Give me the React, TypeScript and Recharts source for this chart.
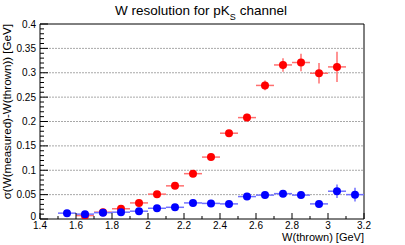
import { ScatterChart, Scatter, XAxis, YAxis, ErrorBar, ReferenceLine } from "recharts";

// red series (upper curve)
const redW = [1.65, 1.75, 1.85, 1.95, 2.05, 2.15, 2.25, 2.35, 2.45, 2.55, 2.65, 2.75, 2.85, 2.95, 3.05];
const redSigma = [0.007, 0.014, 0.021, 0.033, 0.051, 0.068, 0.093, 0.127, 0.176, 0.208, 0.274, 0.316, 0.321, 0.299, 0.312];
const redErr = [0.002, 0.002, 0.002, 0.003, 0.003, 0.003, 0.004, 0.005, 0.006, 0.008, 0.01, 0.014, 0.018, 0.021, 0.031];

// blue series (flat curve)
const blueW = [1.55, 1.65, 1.75, 1.85, 1.95, 2.05, 2.15, 2.25, 2.35, 2.45, 2.55, 2.65, 2.75, 2.85, 2.95, 3.05, 3.15];
const blueSigma = [0.012, 0.01, 0.013, 0.014, 0.016, 0.022, 0.024, 0.033, 0.032, 0.031, 0.046, 0.049, 0.052, 0.049, 0.031, 0.057, 0.05];
const blueErr = [0.002, 0.002, 0.002, 0.002, 0.002, 0.002, 0.002, 0.003, 0.003, 0.003, 0.003, 0.003, 0.003, 0.003, 0.005, 0.014, 0.014];

const binHalfWidth = 0.05;

const xMajor = [1.4, 1.6, 1.8, 2, 2.2, 2.4, 2.6, 2.8, 3, 3.2];
const xMinor = [1.5, 1.7, 1.9, 2.1, 2.3, 2.5, 2.7, 2.9, 3.1];
const yMajor = [0, 0.05, 0.1, 0.15, 0.2, 0.25, 0.3, 0.35, 0.4];
const yMinor = [
  0.01, 0.02, 0.03, 0.04, 0.06, 0.07, 0.08, 0.09, 0.11, 0.12, 0.13, 0.14,
  0.16, 0.17, 0.18, 0.19, 0.21, 0.22, 0.23, 0.24, 0.26, 0.27, 0.28, 0.29,
  0.31, 0.32, 0.33, 0.34, 0.36, 0.37, 0.38, 0.39,
];

const FONT = "'Liberation Sans', Arial, sans-serif";

const redData = redW.map((w, i) => ({ x: w, y: redSigma[i], ex: binHalfWidth, ey: redErr[i] }));
const blueData = blueW.map((w, i) => ({ x: w, y: blueSigma[i], ex: binHalfWidth, ey: blueErr[i] }));

const isMajor = (list: number[], v: number) => list.some((m) => Math.abs(m - v) < 1e-6);

function XTick(props: any) {
  const { x, y, payload } = props;
  const major = isMajor(xMajor, payload.value);
  return (
    <g>
      <line x1={x} x2={x} y1={y} y2={y - (major ? 6 : 3)} stroke="#000" />
      {major && (
        <text x={x} y={y + 10} textAnchor="middle" fontSize={10} fontFamily={FONT} fill="#000">
          {String(payload.value)}
        </text>
      )}
    </g>
  );
}

function YTick(props: any) {
  const { x, y, payload } = props;
  const major = isMajor(yMajor, payload.value);
  // the zero label sits a little higher so it clears the 1.4 label below
  const dy = payload.value === 0 ? 1 : 3.5;
  return (
    <g>
      <line x1={x} x2={x + (major ? 8 : 4)} y1={y} y2={y} stroke="#000" />
      {major && (
        <text x={x - 4} y={y + dy} textAnchor="end" fontSize={10} fontFamily={FONT} fill="#000">
          {String(payload.value)}
        </text>
      )}
    </g>
  );
}

const marker = (color: string) => (p: any) => <circle cx={p.cx} cy={p.cy} r={4} fill={color} />;

export default function App() {
  const xTicks = [...xMajor, ...xMinor].sort((a, b) => a - b);
  const yTicks = [...yMajor, ...yMinor].sort((a, b) => a - b);
  return (
    <div style={{ position: "absolute", left: 0, top: 0, width: 405, height: 245, background: "#fff" }}>
      <ScatterChart width={405} height={245} margin={{ top: 24, right: 41, bottom: 0, left: 0 }}>
        <XAxis
          type="number"
          dataKey="x"
          domain={[1.4, 3.2]}
          ticks={xTicks}
          interval={0}
          height={26}
          tickSize={0}
          tickMargin={0}
          tickLine={false}
          tick={XTick}
          axisLine={{ stroke: "#000" }}
          allowDataOverflow
        />
        <YAxis
          type="number"
          dataKey="y"
          domain={[0, 0.4]}
          ticks={yTicks}
          interval={0}
          width={40}
          tickSize={0}
          tickMargin={0}
          tickLine={false}
          tick={YTick}
          axisLine={{ stroke: "#000" }}
          allowDataOverflow
        />
        {yMajor.slice(1, -1).map((v) => (
          <ReferenceLine key={v} y={v} stroke="#a8a8a8" strokeDasharray="2 1" />
        ))}
        <ReferenceLine y={0.4} stroke="#000" />
        <ReferenceLine x={3.2} stroke="#000" />
        <Scatter data={redData} shape={marker("#ff0000")} isAnimationActive={false}>
          <ErrorBar dataKey="ex" direction="x" width={0} stroke="#ff7070" strokeWidth={1.5} />
          <ErrorBar dataKey="ey" direction="y" width={0} stroke="#ff7070" strokeWidth={1.5} />
        </Scatter>
        <Scatter data={blueData} shape={marker("#0000ff")} isAnimationActive={false}>
          <ErrorBar dataKey="ex" direction="x" width={0} stroke="#7070ff" strokeWidth={1.5} />
          <ErrorBar dataKey="ey" direction="y" width={0} stroke="#7070ff" strokeWidth={1.5} />
        </Scatter>
      </ScatterChart>
      <svg width={405} height={245} style={{ position: "absolute", left: 0, top: 0, pointerEvents: "none" }}>
        <text x={201} y={15} textAnchor="middle" fontSize={13.5} fontFamily={FONT} fill="#000">
          W resolution for pK
          <tspan fontSize={9} dy={5}>S</tspan>
          <tspan dy={-5}> channel</tspan>
        </text>
        <text
          transform="translate(11,24) rotate(-90)"
          textAnchor="end"
          fontSize={11.6}
          fontFamily={FONT}
          fill="#000"
        >
          σ(W(measured)-W(thrown)) [GeV]
        </text>
        <text x={364} y={241} textAnchor="end" fontSize={11} fontFamily={FONT} fill="#000">
          W(thrown) [GeV]
        </text>
      </svg>
    </div>
  );
}
